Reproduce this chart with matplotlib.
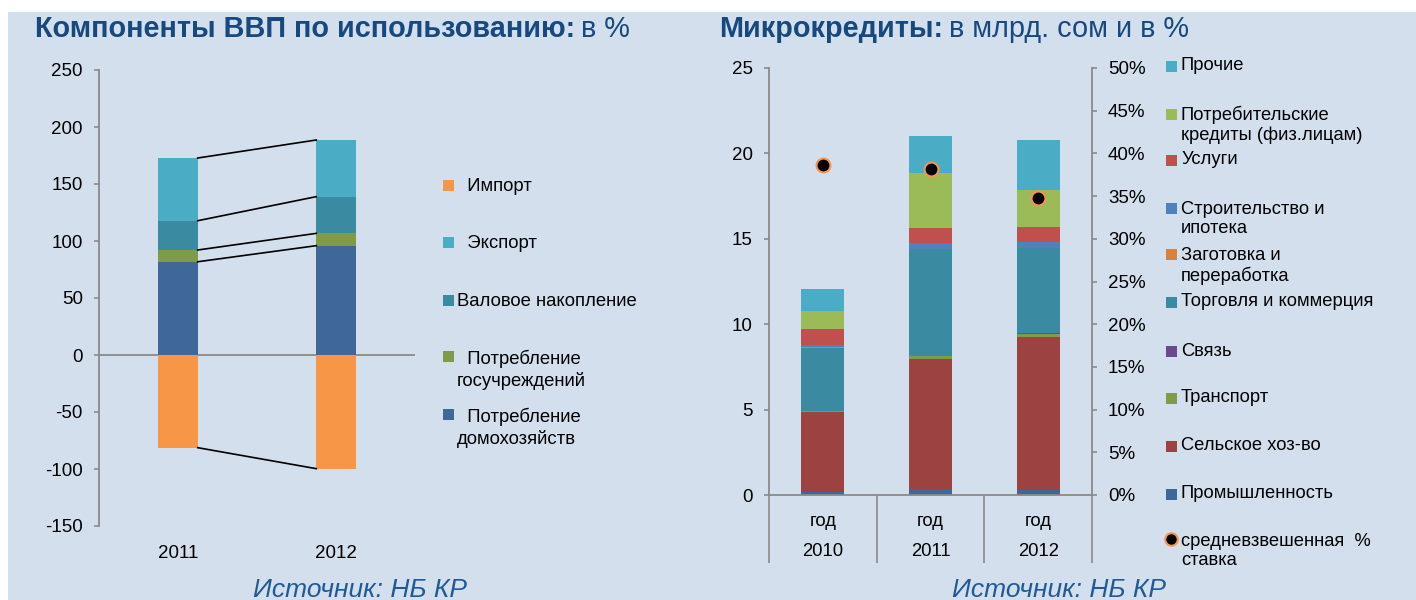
import matplotlib
matplotlib.use("Agg")
import matplotlib.pyplot as plt
import matplotlib.patches as mpatches
import matplotlib.transforms as mtransforms
from matplotlib.lines import Line2D
from matplotlib.ticker import FuncFormatter

# ---- данные: компоненты ВВП (в %) ----
gdp_years = ['2011', '2012']
household = [81.8, 95.9]
government = [10.3, 10.8]
accumulation = [25.7, 32.2]
export = [55.0, 49.7]
imports = [-81.3, -99.7]
gdp_labels = ['  Импорт', '  Экспорт', 'Валовое накопление',
              '  Потребление\nгосучреждений', '  Потребление\nдомохозяйств']

# ---- данные: микрокредиты (млрд. сом) ----
mc_years = ['2010', '2011', '2012']
industry = [0.19, 0.35, 0.27]
agriculture = [4.68, 7.63, 8.98]
transport = [0.05, 0.16, 0.19]
communication = [0.02, 0.02, 0.02]
trade = [3.68, 6.22, 5.00]
processing = [0.02, 0.02, 0.02]
construction = [0.15, 0.33, 0.31]
services = [0.92, 0.88, 0.92]
consumer = [1.07, 3.22, 2.13]
other = [1.29, 2.21, 2.96]
rate = [0.387, 0.382, 0.348]
mc_labels = ['Промышленность', 'Сельское хоз-во', 'Транспорт', 'Связь',
             'Торговля и коммерция', 'Заготовка и\nпереработка',
             'Строительство и\nипотека', 'Услуги',
             'Потребительские\nкредиты (физ.лицам)', 'Прочие']
rate_label = 'средневзвешенная  %\nставка'

BG = '#D4DFEE'
AXC = '#8A8A8A'
TITLE_C = '#17497F'
SRC_C = '#1E5A98'

plt.rcParams['font.family'] = ['Liberation Sans', 'DejaVu Sans']
plt.rcParams['axes.unicode_minus'] = False

W, H = 1416, 600
fig = plt.figure(figsize=(W / 100, H / 100), dpi=100)
fig.patch.set_facecolor('white')


def fx(px):
    return px / W


def fy(py):
    return 1 - py / H


def box(x0, y0, x1, y1):
    return [fx(x0), fy(y1), fx(x1) - fx(x0), fy(y0) - fy(y1)]


fig.add_artist(mpatches.Rectangle((fx(8), 0), 1 - fx(8), fy(12), transform=fig.transFigure,
                                  facecolor=BG, edgecolor='none', zorder=0))

# ================= левый график =================
ax1 = fig.add_axes(box(99, 70, 415, 526))
ax1.set_facecolor('none')
gdp_colors = ['#F79646', '#4BACC6', '#3A8AA1', '#7F9A48', '#3F6898']
x1 = list(range(len(gdp_years)))
bw1 = 0.25
pos_series = [household, government, accumulation, export]
pos_colors = [gdp_colors[4], gdp_colors[3], gdp_colors[2], gdp_colors[1]]
bottom = [0.0] * len(x1)
tops = []
for vals, c in zip(pos_series, pos_colors):
    ax1.bar(x1, vals, bw1, bottom=bottom, color=c, edgecolor='none', zorder=2)
    bottom = [b + v for b, v in zip(bottom, vals)]
    tops.append(list(bottom))
ax1.bar(x1, imports, bw1, color=gdp_colors[0], edgecolor='none', zorder=2)
tops.append(imports)
# линии рядов между столбцами
for t in tops:
    ax1.plot([x1[0] + bw1 / 2, x1[1] - bw1 / 2], [t[0], t[1]], color='black', lw=1.2, zorder=3)
ax1.axhline(0, color=AXC, lw=1.3, zorder=1)
ax1.set_xlim(-0.5, 1.5)
ax1.set_ylim(-150, 250)
ax1.set_yticks(range(-150, 251, 50))
ax1.set_xticks([])
for s in ['top', 'right', 'bottom']:
    ax1.spines[s].set_visible(False)
ax1.spines['left'].set_color(AXC)
ax1.spines['left'].set_linewidth(1.3)
ax1.tick_params(axis='y', direction='out', length=3.6, width=1.2, color=AXC,
                pad=8, labelsize=13.5)
tr1 = mtransforms.blended_transform_factory(ax1.transData, ax1.transAxes)
for i, yr in enumerate(gdp_years):
    ax1.text(x1[i], -27 / 456, yr, transform=tr1, ha='center', va='center', fontsize=13.5)

# легенда слева
leg1 = [(gdp_labels[0], gdp_colors[0], 186, 186),
        (gdp_labels[1], gdp_colors[1], 243, 243),
        (gdp_labels[2], gdp_colors[2], 301, 301),
        (gdp_labels[3], gdp_colors[3], 357, 370),
        (gdp_labels[4], gdp_colors[4], 415, 428)]
for lab, c, ysq, ytx in leg1:
    fig.add_artist(mpatches.Rectangle((fx(443), fy(ysq + 5)), fx(11), 11 / H,
                                      transform=fig.transFigure, facecolor=c, edgecolor='none'))
    fig.text(fx(457), fy(ytx), lab, ha='left', va='center', fontsize=13.3, linespacing=1.25)

# ================= правый график =================
ax2 = fig.add_axes(box(769, 68, 1092, 495))
ax2.set_facecolor('none')
mc_series = [industry, agriculture, transport, communication, trade, processing,
             construction, services, consumer, other]
mc_colors = ['#3F6898', '#9C4240', '#7F9A48', '#6A4A8C', '#3A8AA1', '#D9803E',
             '#4F81BD', '#C0504D', '#9BBB59', '#4BACC6']
x2 = list(range(len(mc_years)))
bw2 = 0.4
bottom = [0.0] * len(x2)
for vals, c in zip(mc_series, mc_colors):
    ax2.bar(x2, vals, bw2, bottom=bottom, color=c, edgecolor='none', zorder=2)
    bottom = [b + v for b, v in zip(bottom, vals)]
ax2.set_xlim(-0.5, 2.5)
ax2.set_ylim(0, 25)
ax2.set_yticks(range(0, 26, 5))
ax2.set_xticks([])
ax2.set_xticks([-0.5, 0.5, 1.5, 2.5], minor=True)
for s in ['top', 'right']:
    ax2.spines[s].set_visible(False)
for s in ['left', 'bottom']:
    ax2.spines[s].set_color(AXC)
    ax2.spines[s].set_linewidth(1.3)
ax2.tick_params(axis='y', direction='out', length=3.6, width=1.2, color=AXC,
                pad=8, labelsize=13.5)
ax2.tick_params(axis='x', which='minor', direction='out', length=49, width=1.2, color=AXC)
tr2 = mtransforms.blended_transform_factory(ax2.transData, ax2.transAxes)
for i, yr in enumerate(mc_years):
    ax2.text(x2[i], -26 / 427, 'год', transform=tr2, ha='center', va='center', fontsize=13.3)
    ax2.text(x2[i], -57 / 427, yr, transform=tr2, ha='center', va='center', fontsize=13.3)

ax3 = ax2.twinx()
ax3.set_ylim(0, 0.5)
ax3.set_yticks([i * 0.05 for i in range(11)])
ax3.yaxis.set_major_formatter(FuncFormatter(lambda v, p: f'{round(v * 100)}%'))
ax3.plot(x2, rate, ls='none', marker='o', ms=10, mfc='black', mec='#F79646', mew=1.5, zorder=5)
for s in ['top', 'left', 'bottom']:
    ax3.spines[s].set_visible(False)
ax3.spines['right'].set_color(AXC)
ax3.spines['right'].set_linewidth(1.3)
ax3.tick_params(axis='y', direction='out', length=3.6, width=1.2, color=AXC,
                pad=8, labelsize=13.5)

# легенда справа
leg2_y = [(66, 66), (114, 125), (160, 160), (208, 219), (255, 266), (302, 302),
          (351, 351), (398, 398), (446, 446), (494, 494)]
order = list(range(len(mc_labels)))[::-1]
for k, idx in enumerate(order):
    ysq, ytx = leg2_y[k]
    fig.add_artist(mpatches.Rectangle((fx(1166), fy(ysq + 5.5)), fx(11), 11 / H,
                                      transform=fig.transFigure, facecolor=mc_colors[idx],
                                      edgecolor='none'))
    fig.text(fx(1181), fy(ytx), mc_labels[idx], ha='left', va='center', fontsize=13.2,
             linespacing=1.2)
fig.add_artist(Line2D([fx(1171)], [fy(539)], transform=fig.transFigure, ls='none', marker='o',
                      ms=9, mfc='black', mec='#F79646', mew=1.5))
fig.text(fx(1181), fy(551), rate_label, ha='left', va='center', fontsize=13.2, linespacing=1.2)

# ================= заголовки =================
fig.canvas.draw()
renderer = fig.canvas.get_renderer()


def title(x, bold_part, rest):
    t = fig.text(fx(x), fy(29), bold_part, ha='left', va='center', fontsize=20.8,
                 fontweight='bold', color=TITLE_C)
    bb = t.get_window_extent(renderer)
    fig.text(bb.x1 / W + fx(6), fy(29), rest, ha='left', va='center', fontsize=20.8,
             color=TITLE_C)


title(35, 'Компоненты ВВП по использованию:', 'в %')
title(719, 'Микрокредиты:', 'в млрд. сом и в %')

fig.text(fx(360), fy(597), 'Источник: НБ КР', ha='center', va='baseline', fontsize=19,
         style='italic', color=SRC_C)
fig.text(fx(1059), fy(597), 'Источник: НБ КР', ha='center', va='baseline', fontsize=19,
         style='italic', color=SRC_C)

fig.savefig('out.png', dpi=100, facecolor=fig.get_facecolor())
